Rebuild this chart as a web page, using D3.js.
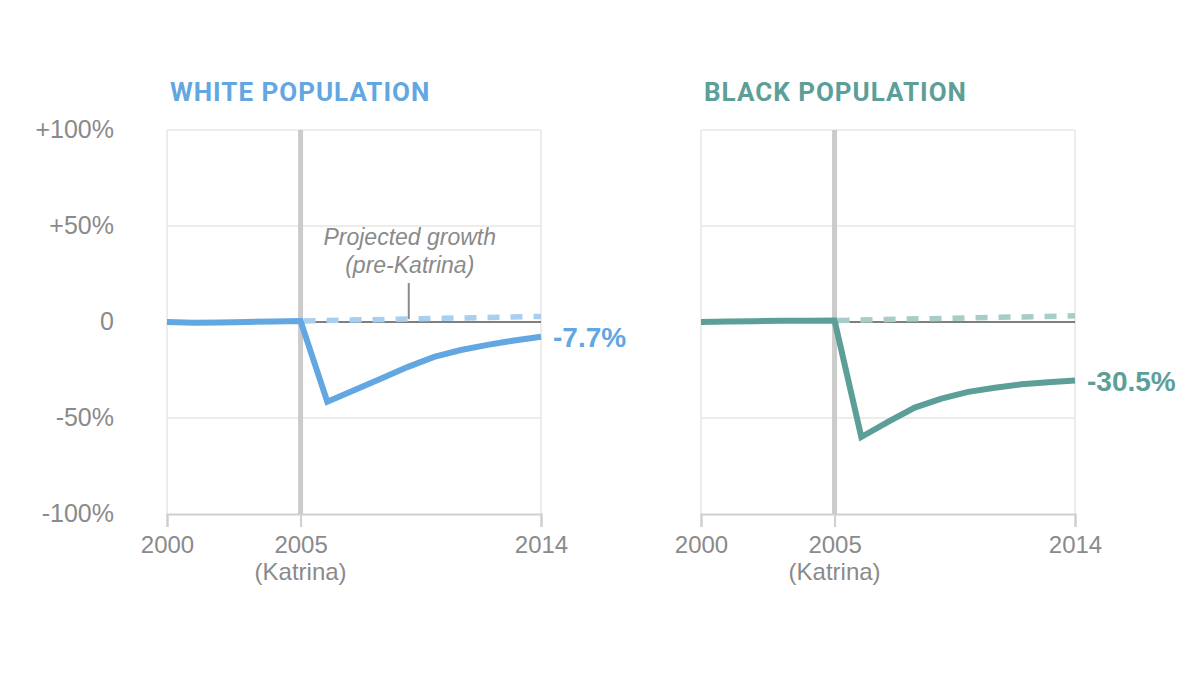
<!DOCTYPE html>
<html>
<head>
<meta charset="utf-8">
<script src="https://cdn.jsdelivr.net/npm/d3@7"></script>
<style>
  body { margin: 0; background: #fff; }
  text { font-family: "Liberation Sans", Arial, sans-serif; }
</style>
</head>
<body>
<svg id="chart" width="1198" height="674"></svg>
<script>
// Data (percent change vs 2000)
const years = [2000, 2001, 2002, 2003, 2004, 2005, 2006, 2007, 2008, 2009, 2010, 2011, 2012, 2013, 2014];
const whiteActual = [0, -0.4, -0.3, 0, 0.3, 0.5, -41.5, -35.5, -29.5, -23.5, -18.2, -14.6, -11.9, -9.6, -7.7];
const blackActual = [0, 0.2, 0.4, 0.6, 0.7, 0.8, -59.9, -52, -44.6, -39.9, -36.4, -34.2, -32.4, -31.4, -30.5];
const projYears = [2005, 2014];
const whiteProjected = [0.5, 2.9];
const blackProjected = [0.8, 3.2];
const yTicks = [100, 50, 0, -50, -100];
const xTicks = [2000, 2005, 2014];

const svg = d3.select("#chart");

const y = d3.scaleLinear().domain([-100, 100]).range([514, 130]);

const panels = [
  { title: "WHITE POPULATION", actual: whiteActual, projected: whiteProjected,
    color: "#62a6e2", light: "#a9cff0", x0: 167, label: "-7.7%", yAxis: true, note: true },
  { title: "BLACK POPULATION", actual: blackActual, projected: blackProjected,
    color: "#5c9e98", light: "#a8cdc9", x0: 701, label: "-30.5%", yAxis: false, note: false },
];

panels.forEach((p) => {
  const x = d3.scaleLinear().domain([2000, 2014]).range([p.x0, p.x0 + 374]);
  const g = svg.append("g");

  // title
  g.append("text")
    .attr("x", p.x0 + 3)
    .attr("y", 101)
    .attr("fill", p.color)
    .style("font-family", "Roboto, sans-serif")
    .style("font-weight", "bold")
    .style("font-size", "26px")
    .style("letter-spacing", "1px")
    .text(p.title);

  // grid lines
  g.selectAll(".hgrid")
    .data([100, 50, -50])
    .join("line")
    .attr("x1", x(2000)).attr("x2", x(2014))
    .attr("y1", (d) => y(d)).attr("y2", (d) => y(d))
    .attr("stroke", "#ececec").attr("stroke-width", 2);

  g.selectAll(".vgrid")
    .data([2000, 2014])
    .join("line")
    .attr("x1", (d) => x(d)).attr("x2", (d) => x(d))
    .attr("y1", y(100)).attr("y2", y(-100))
    .attr("stroke", "#ececec").attr("stroke-width", 2);

  // bottom axis
  const xAxis = g.append("g")
    .attr("transform", `translate(0,${y(-100)})`)
    .call(d3.axisBottom(x).tickValues(xTicks).tickFormat(d3.format("d")).tickSize(13).tickPadding(9));
  xAxis.select(".domain").attr("stroke", "#cfcfcf").attr("stroke-width", 2);
  xAxis.selectAll(".tick line").attr("stroke", "#cfcfcf").attr("stroke-width", 2);
  xAxis.selectAll(".tick text")
    .attr("fill", "#8a8a8a")
    .style("font-size", "24px")
    .style("font-family", "'Liberation Sans', Arial, sans-serif");
  xAxis.append("text")
    .attr("x", x(2005))
    .attr("y", 66)
    .attr("text-anchor", "middle")
    .attr("fill", "#8a8a8a")
    .style("font-size", "24px")
    .text("(Katrina)");

  // Katrina line
  g.append("line")
    .attr("x1", x(2005)).attr("x2", x(2005))
    .attr("y1", y(100)).attr("y2", y(-100))
    .attr("stroke", "#cbcbcb").attr("stroke-width", 5);

  // zero line
  g.append("line")
    .attr("x1", x(2005)).attr("x2", x(2014))
    .attr("y1", y(0)).attr("y2", y(0))
    .attr("stroke", "#555").attr("stroke-width", 1.5);

  // projected dashed
  g.append("path")
    .datum(projYears.map((d, i) => [d, p.projected[i]]))
    .attr("d", d3.line().x((d) => x(d[0])).y((d) => y(d[1])))
    .attr("fill", "none")
    .attr("stroke", p.light)
    .attr("stroke-width", 5.5)
    .attr("stroke-dasharray", "12,11")
    .attr("stroke-dashoffset", -3);

  // actual line
  g.append("path")
    .datum(years.map((d, i) => [d, p.actual[i]]))
    .attr("d", d3.line().x((d) => x(d[0])).y((d) => y(d[1])))
    .attr("fill", "none")
    .attr("stroke", p.color)
    .attr("stroke-width", 6)
    .attr("stroke-linejoin", "miter");

  // end label
  const last = p.actual[p.actual.length - 1];
  g.append("text")
    .attr("x", x(2014) + 12)
    .attr("y", y(last) + 10)
    .attr("fill", p.color)
    .style("font-weight", "bold")
    .style("font-size", "28px")
    .text(p.label);

  // y axis labels
  if (p.yAxis) {
    g.selectAll(".ylab")
      .data(yTicks)
      .join("text")
      .attr("x", 114)
      .attr("y", (d) => y(d) + 8)
      .attr("text-anchor", "end")
      .attr("fill", "#8a8a8a")
      .style("font-size", "25px")
      .text((d) => (d > 0 ? "+" + d + "%" : d === 0 ? "0" : d + "%"));
  }

  // annotation
  if (p.note) {
    const ax = x(2009.05);
    g.append("text")
      .attr("x", ax + 1).attr("y", 245)
      .attr("text-anchor", "middle")
      .attr("fill", "#8a8a8a")
      .style("font-style", "italic")
      .style("font-size", "23px")
      .text("Projected growth");
    g.append("text")
      .attr("x", ax + 1).attr("y", 273)
      .attr("text-anchor", "middle")
      .attr("fill", "#8a8a8a")
      .style("font-style", "italic")
      .style("font-size", "23px")
      .text("(pre-Katrina)");
    g.append("line")
      .attr("x1", ax).attr("x2", ax)
      .attr("y1", 283).attr("y2", y(1.5))
      .attr("stroke", "#8a8a8a").attr("stroke-width", 2);
  }
});
</script>
</body>
</html>
